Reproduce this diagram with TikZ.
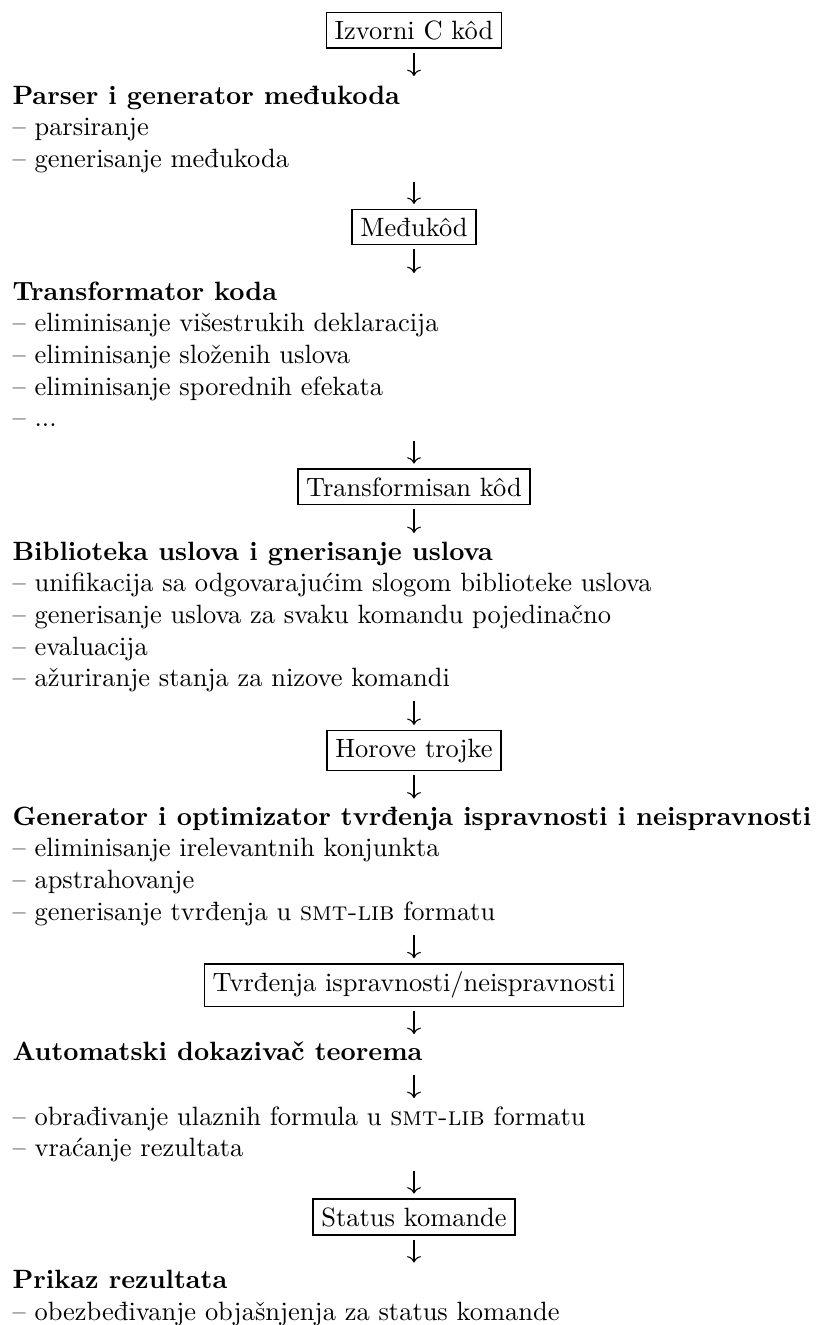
\documentclass[tikz,border=0pt]{standalone}
\usetikzlibrary{arrows.meta}
\begin{document}
\begin{tikzpicture}[x=0.3781pt,y=-0.3781pt,
  txt/.style={anchor=base west, inner sep=0pt},
  hd/.style={anchor=base west, inner sep=0pt, font=\bfseries},
  box/.style={draw, line width=0.6pt, inner sep=3.1pt, anchor=base},
  arr/.style={line width=0.4pt, -{To[length=2.4pt,width=5.2pt]}}]
\useasboundingbox (0,0) rectangle (817,1325);
\def\cx{414}
\def\lx{12}
% boxes
\node[box] (b1) at (\cx,39.3) {Izvorni C kôd};
\node[box] (b2) at (\cx,236) {Međukôd};
\node[box] (b3) at (\cx,496) {Transformisan kôd};
\node[box] (b4) at (\cx,757) {Horove trojke};
\node[box] (b5) at (\cx,991.8) {Tvrđenja ispravnosti/neispravnosti};
\node[box] (b6) at (\cx,1226) {Status komande};
% block 1
\node[hd] (h1) at (\lx,104) {Parser i generator međukoda};
\node[txt] (i11) at (\lx,135.7) {– parsiranje};
\node[txt] (i12) at (\lx,167.4) {– generisanje međukoda};
% block 2
\node[hd] (h2) at (\lx,300) {Transformator koda};
\node[txt] (i21) at (\lx,331.7) {– eliminisanje višestrukih deklaracija};
\node[txt] (i22) at (\lx,363.4) {– eliminisanje složenih uslova};
\node[txt] (i23) at (\lx,395.1) {– eliminisanje sporednih efekata};
\node[txt] (i24) at (\lx,426.8) {– ...};
% block 3
\node[hd] (h3) at (\lx,560) {Biblioteka uslova i gnerisanje uslova};
\node[txt] (i31) at (\lx,591.7) {– unifikacija sa odgovarajućim slogom biblioteke uslova};
\node[txt] (i32) at (\lx,623.4) {– generisanje uslova za svaku komandu pojedinačno};
\node[txt] (i33) at (\lx,655.1) {– evaluacija};
\node[txt] (i34) at (\lx,686.8) {– ažuriranje stanja za nizove komandi};
% block 4
\node[hd] (h4) at (\lx,825) {Generator i optimizator tvrđenja ispravnosti i neispravnosti};
\node[txt] (i41) at (\lx,856.7) {– eliminisanje irelevantnih konjunkta};
\node[txt] (i42) at (\lx,888.4) {– apstrahovanje};
\node[txt] (i43) at (\lx,920.1) {– generisanje tvrđenja u \textsc{smt-lib} formatu};
% block 5
\node[hd] (h5) at (\lx,1060) {Automatski dokazivač teorema};
\node[txt] (i51) at (\lx,1125) {– obrađivanje ulaznih formula u \textsc{smt-lib} formatu};
\node[txt] (i52) at (\lx,1156.7) {– vraćanje rezultata};
% block 6
\node[hd] (h6) at (\lx,1288) {Prikaz rezultata};
\node[txt] (i61) at (\lx,1320) {– obezbeđivanje objašnjenja za status komande};
% arrow end points
\coordinate (t1) at (\cx,76);
\coordinate (s2) at (\cx,182);
\coordinate (t3) at (\cx,273);
\coordinate (s4) at (\cx,441);
\coordinate (t5) at (\cx,533);
\coordinate (s6) at (\cx,701);
\coordinate (t7) at (\cx,798.5);
\coordinate (s8) at (\cx,934.5);
\coordinate (t9) at (\cx,1034);
\coordinate (s10) at (\cx,1074.5);
\coordinate (t10) at (\cx,1098);
\coordinate (s11) at (\cx,1170.5);
\coordinate (t12) at (\cx,1262.5);
% arrows
\draw[arr, shorten <=1.5pt] (b1.south) -- (t1);
\draw[arr, shorten >=1.8pt] (s2) -- (b2.north);
\draw[arr, shorten <=1.5pt] (b2.south) -- (t3);
\draw[arr, shorten >=1.8pt] (s4) -- (b3.north);
\draw[arr, shorten <=1.5pt] (b3.south) -- (t5);
\draw[arr, shorten >=1.8pt] (s6) -- (b4.north);
\draw[arr, shorten <=1.5pt] (b4.south) -- (t7);
\draw[arr, shorten >=1.8pt] (s8) -- (b5.north);
\draw[arr, shorten <=1.2pt] (b5.south) -- (t9);
\draw[arr] (s10) -- (t10);
\draw[arr, shorten >=1.8pt] (s11) -- (b6.north);
\draw[arr, shorten <=1.5pt] (b6.south) -- (t12);
\end{tikzpicture}
\end{document}
